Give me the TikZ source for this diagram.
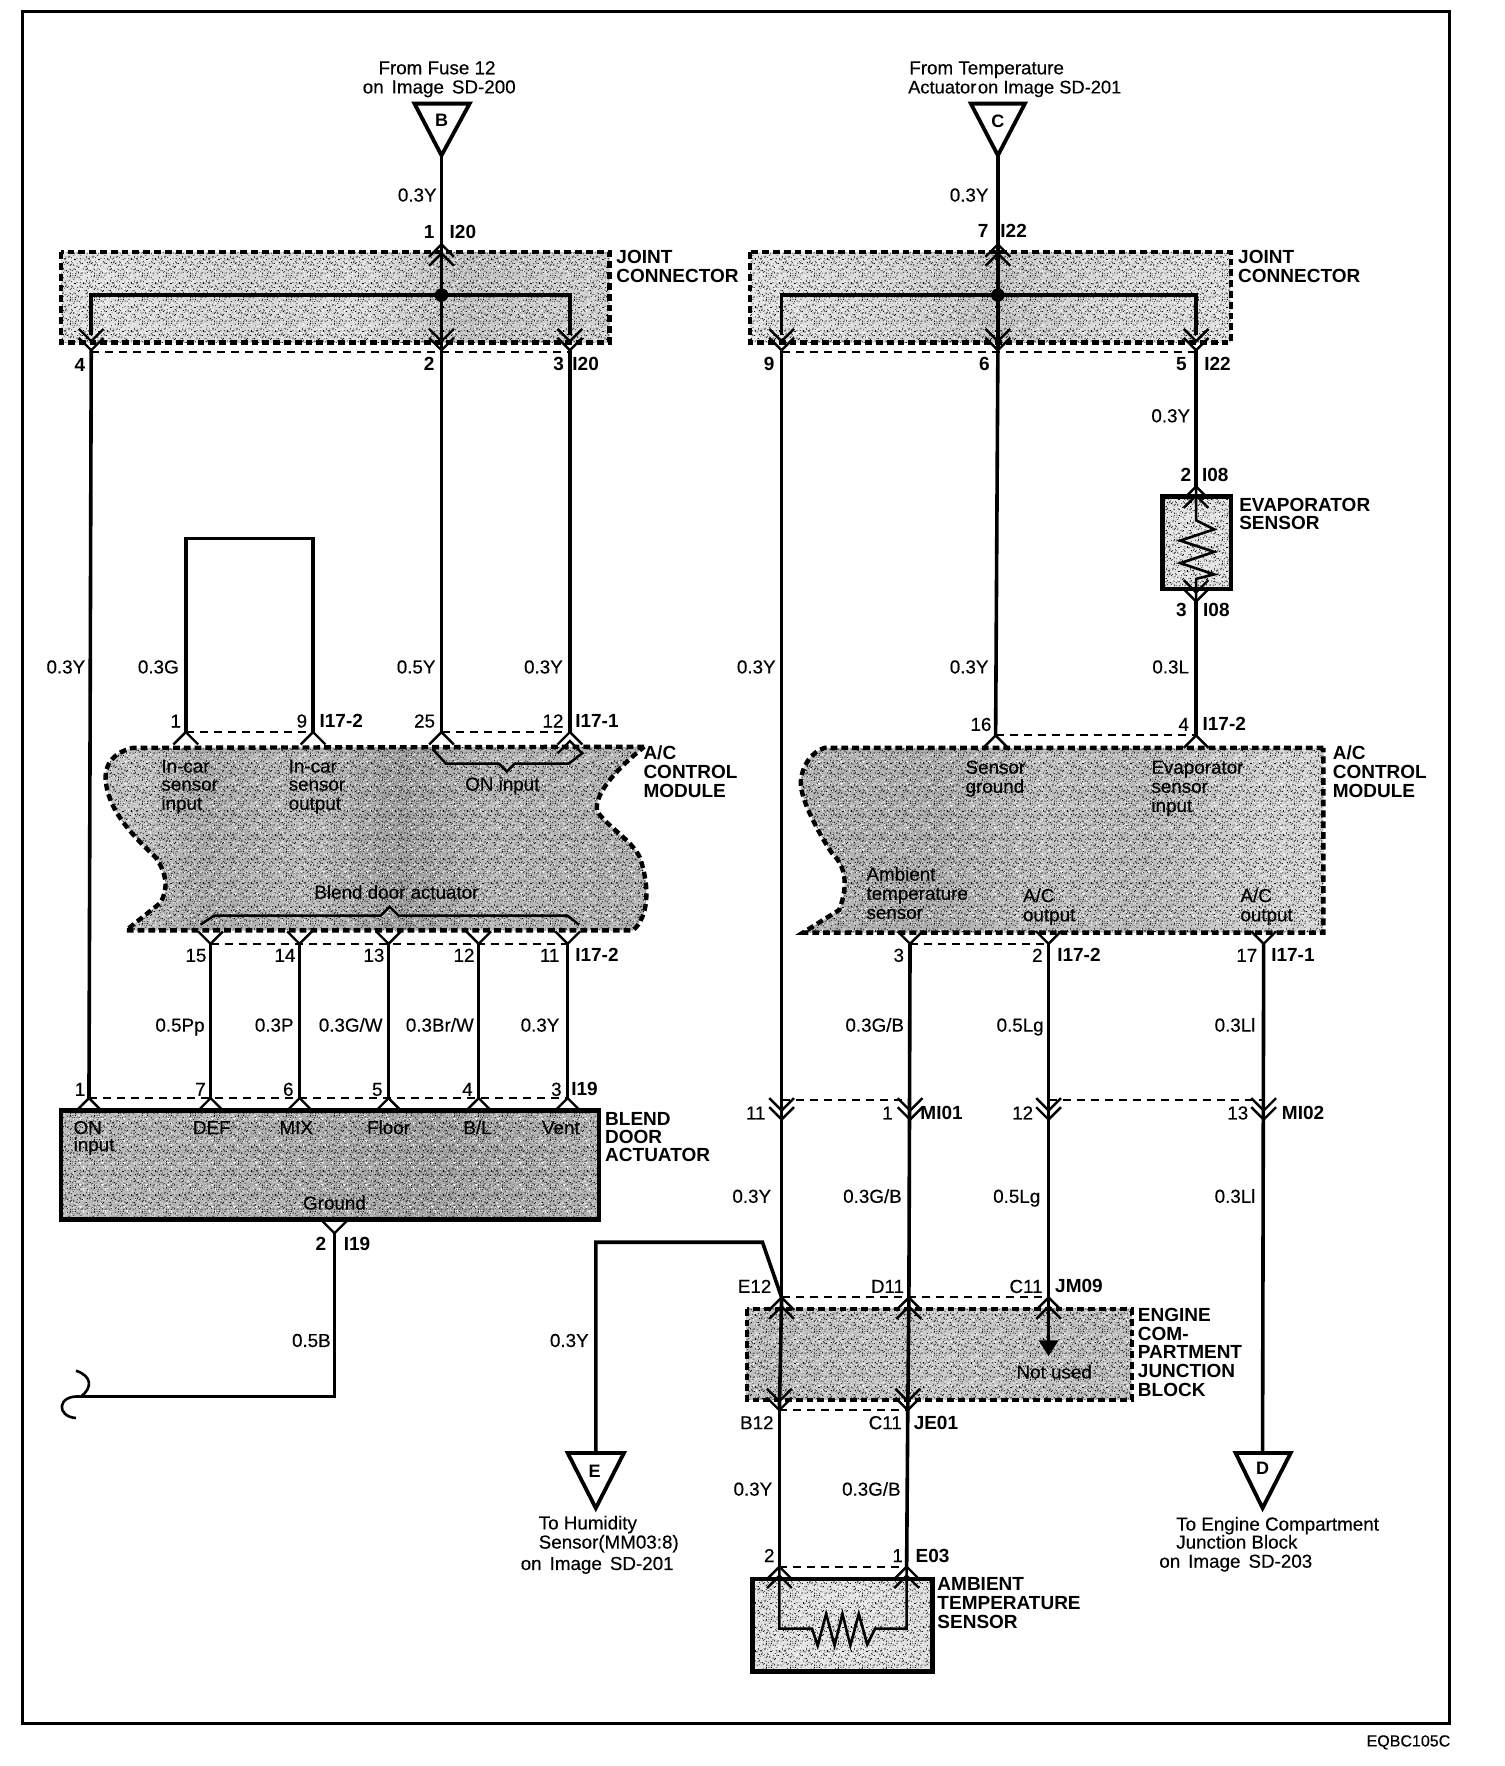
\documentclass[tikz,border=0pt]{standalone}
\usepackage{fontspec}
\setmainfont{Liberation Sans}
\newfontfamily\semif[FakeBold=0.35]{Liberation Sans}
\usetikzlibrary{calc,patterns}
\newcounter{lc}
\pgfdeclarepatternformonly{noiseK}{\pgfqpoint{0pt}{0pt}}{\pgfqpoint{12pt}{12pt}}{\pgfqpoint{12pt}{12pt}}{%
  \pgfmathsetseed{7}%
  \foreach \i in {0,...,29}{\foreach \j in {0,...,29}{%
    \pgfmathrandominteger{\rr}{0}{99}%
    \ifnum\rr<9 \pgfpathrectangle{\pgfpoint{\i*0.4pt}{\j*0.4pt}}{\pgfqpoint{.4pt}{.4pt}}\pgfusepath{fill}\fi}}}
\pgfdeclarepatternformonly{noiseW}{\pgfqpoint{0pt}{0pt}}{\pgfqpoint{11.2pt}{11.2pt}}{\pgfqpoint{11.2pt}{11.2pt}}{%
  \pgfmathsetseed{23}%
  \foreach \i in {0,...,27}{\foreach \j in {0,...,27}{%
    \pgfmathrandominteger{\rr}{0}{99}%
    \ifnum\rr<9 \pgfpathrectangle{\pgfpoint{\i*0.4pt}{\j*0.4pt}}{\pgfqpoint{.4pt}{.4pt}}\pgfusepath{fill}\fi}}}
\pgfdeclarehorizontalshading{jl}{100bp}{color(0bp)=(gray!12);color(18bp)=(gray!30);color(28bp)=(gray!22);color(42bp)=(gray!34);color(52bp)=(gray!26);color(62bp)=(gray!48);color(72bp)=(gray!36);color(85bp)=(gray!34);color(100bp)=(gray!15)}
\pgfdeclarehorizontalshading{jr}{100bp}{color(0bp)=(gray!15);color(25bp)=(gray!22);color(40bp)=(gray!32);color(50bp)=(gray!46);color(62bp)=(gray!30);color(80bp)=(gray!20);color(100bp)=(gray!10)}
\pgfdeclarehorizontalshading{ml}{100bp}{color(0bp)=(gray!34);color(15bp)=(gray!52);color(28bp)=(gray!46);color(34bp)=(gray!66);color(44bp)=(gray!52);color(52bp)=(gray!76);color(60bp)=(gray!56);color(78bp)=(gray!62);color(84bp)=(gray!72);color(92bp)=(gray!54);color(100bp)=(gray!38)}
\pgfdeclarehorizontalshading{mr}{100bp}{color(0bp)=(gray!46);color(20bp)=(gray!56);color(38bp)=(gray!64);color(48bp)=(gray!48);color(58bp)=(gray!54);color(70bp)=(gray!34);color(85bp)=(gray!30);color(100bp)=(gray!24)}
\pgfdeclarehorizontalshading{bl}{100bp}{color(0bp)=(gray!62);color(25bp)=(gray!54);color(50bp)=(gray!66);color(60bp)=(gray!74);color(75bp)=(gray!60);color(90bp)=(gray!70);color(100bp)=(gray!64)}
\pgfdeclarehorizontalshading{ju}{100bp}{color(0bp)=(gray!60);color(30bp)=(gray!50);color(50bp)=(gray!42);color(70bp)=(gray!52);color(100bp)=(gray!34)}
\pgfdeclarehorizontalshading{lt}{100bp}{color(0bp)=(gray!30);color(50bp)=(gray!20);color(100bp)=(gray!30)}
\tikzset{
  txt/.style={inner sep=0pt,text height=6.7pt,text depth=0pt,font=\fontsize{9.4}{10}\semif,align=left},
  txb/.style={inner sep=0pt,text height=6.7pt,text depth=0pt,font=\fontsize{9.5}{10}\bfseries,align=left},
  wire/.style={line width=1.8pt,line cap=butt},
  thin wire/.style={line width=1.3pt},
  chev/.style={line width=1.2pt,line join=miter},
  link/.style={line width=1pt,dash pattern=on 4pt off 3pt},
  edge box/.style={line width=2.2pt,dash pattern=on 3.4pt off 2pt},
  solid box/.style={line width=2.3pt},
  tri/.style={line width=1.9pt,line join=miter},
  nk/.style={pattern=noiseK,pattern color=black},
  nw/.style={pattern=noiseW,pattern color=white},
}
\newcommand{\tx}[4][center]{\stepcounter{lc}\node[txt,anchor=#1] (t\arabic{lc}) at (#2,#3) {#4};}
\newcommand{\tb}[4][center]{\stepcounter{lc}\node[txb,anchor=#1] (t\arabic{lc}) at (#2,#3) {#4};}
\newcommand{\Vv}[1]{\draw[chev] ($(#1)+(-11,-11)$) -- (#1) -- ($(#1)+(11,-11)$);}
\newcommand{\Vn}[1]{\draw[chev] ($(#1)+(-11,11)$) -- (#1) -- ($(#1)+(11,11)$);}
\newcommand{\VV}[1]{\Vv{#1}\draw[chev] ($(#1)+(-11,-19)$) -- ($(#1)+(0,-8)$) -- ($(#1)+(11,-19)$);}
\newcommand{\NN}[1]{\Vn{#1}\draw[chev] ($(#1)+(-11,19)$) -- ($(#1)+(0,8)$) -- ($(#1)+(11,19)$);}
\newcommand{\blk}[2]{\path[shading=#1] #2;\path[nk] #2;\path[nw] #2;}
\begin{document}
\begin{tikzpicture}[x=0.56315pt,y=-0.56315pt]
\useasboundingbox (0,0) rectangle (1335.5,1568);
\fill[white] (0,0) rectangle (1335.5,1568);
\coordinate (fa) at (20,10);\coordinate (fb) at (1287,1530);
\draw[line width=1.4pt] (fa) rectangle (fb);

% ---------- shaded blocks
\blk{jl}{(54,224) rectangle (541,304)}
\blk{jr}{(666,224) rectangle (1093,304)}
\blk{lt}{(1032,441) rectangle (1093,523)}
\def\modL{(572,663) -- (118,664) .. controls (100,668) and (92,680) .. (94,694) .. controls (96,715) and (110,735) .. (138,761) .. controls (148,775) and (150,790) .. (142,802) -- (112,826) -- (562,826) .. controls (575,815) and (578,790) .. (568,761) .. controls (560,745) and (540,735) .. (530,720) .. controls (528,705) and (545,685) .. (572,663) -- cycle}
\blk{ml}{\modL}
\def\modR{(1175,664) -- (732,664) .. controls (720,668) and (712,680) .. (711,694) .. controls (710,710) and (730,745) .. (739,758) .. controls (750,768) and (754,785) .. (745,808) -- (713,828) -- (1175,828) -- cycle}
\blk{mr}{\modR}
\blk{bl}{(54,986) rectangle (532,1083)}
\blk{ju}{(663,1162) rectangle (1005,1243)}
\blk{lt}{(668,1402) rectangle (828,1484)}

% ---------- block outlines
\draw[edge box] (54,224) rectangle (541,304);
\draw[edge box] (666,224) rectangle (1093,304);
\draw[edge box] \modL;
\draw[edge box] \modR;
\draw[edge box] (663,1162) rectangle (1005,1243);
\draw[solid box] (1032,441) rectangle (1093,523);
\draw[solid box] (54,986) rectangle (532,1083);
\draw[solid box] (668,1402) rectangle (828,1484);

% ---------- named pins
\foreach \n/\x/\y in {
 tB/392/138,tC/886/138,
 a1/392/217,a4/81/311,a2/392/311,a3/506/311,busL/81/262,busM/392/262,busR/506/262,
 b7/886/217,b9/694/311,b6/886/311,b5/1062/311,busRL/694/262,busRM/886/262,busRR/1062/262,
 i1/1062/432,i3/1062/534,
 m1/165/650,m9/278/650,m25/392/650,m12/506/650,loopa/165/478,loopb/278/478,
 n16/884/653,n4/1062/653,
 d15/187/838,d14/266/838,d13/345/838,d12/425/838,d11/504/838,
 e3/808/838,e2/931/838,e17/1122/838,
 c1/79/975,c7/187/975,c6/266/975,c5/345/975,c4/425/975,c3/504/975,g2/297/1095,
 gc/297/1240,ge/72/1240,
 f11/694/994,f1/808/994,f12/931/994,f13/1122/994,
 j12/694/1152,j11/807/1152,j9/931/1152,nu/931/1192,
 k12/692/1252,k11/806/1252,
 s2/692/1391,s1/805/1391,
 hc/529/1103,hd/677/1103,tE/529/1290,tD/1121/1290}
 {\coordinate (\n) at (\x,\y);}

% ---------- wires
\draw[wire] (tB) -- (a1); \draw[wire] (tC) -- (b7);
\draw[wire] (a1) -- (a2);
\draw[wire] (b7) -- (b6);
\draw[wire] ($(busL)+(0,35)$) -- (busL) -- (busR) -- ($(busR)+(0,35)$);
\draw[wire] ($(busRL)+(0,35)$) -- (busRL) -- (busRR) -- ($(busRR)+(0,35)$);
\fill (busM) circle (6); \fill (busRM) circle (6);
\draw[wire] (a4) -- (c1); \draw[wire] (a2) -- (m25); \draw[wire] (a3) -- (m12);
\draw[wire] (m1) -- (loopa) -- (loopb) -- (m9);
\draw[wire] (b9) -- (j12); \draw[wire] (b6) -- (n16);
\draw[wire] (b5) -- (i1); \draw[wire] (i3) -- (n4);
\draw[wire] (d15) -- (c7); \draw[wire] (d14) -- (c6); \draw[wire] (d13) -- (c5);
\draw[wire] (d12) -- (c4); \draw[wire] (d11) -- (c3);
\draw[wire] (g2) -- (gc) -- (ge);
\draw[thin wire] (ge) .. controls (82,1232) and (82,1222) .. (67.5,1217);
\draw[thin wire] (ge) .. controls (50,1238) and (50,1258) .. (67.5,1259);
\draw[wire] (e3) -- (j11); \draw[wire] (e2) -- (j9); \draw[wire] (e17) -- (tD);
\draw[wire] (tE) -- (hc) -- (hd) -- (j12);
\draw[wire] (j12) -- (k12); \draw[wire] (j11) -- (k11);
\draw[wire] (k12) -- (s2); \draw[wire] (k11) -- (s1);
\draw[thin wire] (j9) -- (nu);
\fill (922,1190) -- (940,1190) -- (931,1204) -- cycle;

% evaporator resistor
\draw[thin wire,line join=miter] (i1) -- (1062,462) -- (1078,470) -- (1048,480) -- (1078,490) -- (1048,500) -- (1078,510) -- (1062,514) -- (i3);
% ambient resistor
\draw[thin wire,line join=miter] (s2) -- (692,1446) -- (721,1446) -- (726,1461) -- (733.5,1433) -- (741,1461) -- (748,1433) -- (755,1461) -- (762.5,1433) -- (770,1460) -- (777,1446) -- (805,1446) -- (s1);

% brackets in module
\draw[chev] (384,665) -- (396,678) -- (443,678) -- (450,685) -- (457,678) -- (505,678) -- (518,668);
\draw[chev] (178,821) -- (190,813) -- (338,813) -- (346,805) -- (354,813) -- (504,813) -- (514,821);

% ---------- pin chevrons
\NN{a1}\VV{a4}\VV{a2}\VV{a3}
\NN{b7}\VV{b9}\VV{b6}\VV{b5}
\NN{i1}\VV{i3}
\Vn{m1}\Vn{m9}\Vn{m25}\NN{m12}
\Vn{n16}\Vn{n4}
\Vv{d15}\Vv{d14}\Vv{d13}\Vv{d12}\Vv{d11}
\Vv{e3}\Vv{e2}\Vv{e17}
\Vn{c1}\Vn{c7}\Vn{c6}\Vn{c5}\Vn{c4}\Vn{c3}\Vv{g2}
\VV{f11}\VV{f1}\VV{f12}\VV{f13}
\NN{j12}\NN{j11}\NN{j9}
\VV{k12}\VV{k11}
\NN{s2}\NN{s1}

% ---------- dashed links
\draw[link] (a4) ++(0,1.5) -- ($(a3)+(0,1.5)$);
\draw[link] (b9) ++(0,1.5) -- ($(b5)+(0,1.5)$);
\draw[link] (m1) -- (m9); \draw[link] (m25) -- (m12);
\draw[link] (n16) -- (n4);
\draw[link] (d15) -- (d11); \draw[link] (e3) -- (e2);
\draw[link] (c1) -- (c3);
\coordinate (f11t) at (694,977);\coordinate (f1t) at (808,977);\coordinate (f12t) at (931,977);\coordinate (f13t) at (1122,977);
\draw[link] (f11t) -- (f1t); \draw[link] (f12t) -- (f13t);
\draw[link] (j12) -- (j9);
\draw[link] (k12) -- (k11);
\draw[link] (s2) -- (s1);

% ---------- triangles
\node[inner sep=0pt,font=\fontsize{9}{10}\bfseries] (lb) at (392,107) {B};
\node[inner sep=0pt,font=\fontsize{9}{10}\bfseries] (lc) at (886,108) {C};
\node[inner sep=0pt,font=\fontsize{9}{10}\bfseries] (le) at (528,1306) {E};
\node[inner sep=0pt,font=\fontsize{9}{10}\bfseries] (ld) at (1121,1304) {D};
\draw[tri] (368,92) -- (417,92) -- (tB) -- cycle;
\draw[tri] (862,92) -- (910,92) -- (tC) -- cycle;
\draw[tri] (504,1290) -- (554,1290) -- (529,1339) -- cycle;
\draw[tri] (1097,1290) -- (1146,1290) -- (1121,1339) -- cycle;

% ---------- top/bottom captions
\tx{388}{60}{From Fuse 12}\tx{390}{77}{on\hspace{4pt}Image\hspace{4pt}SD-200}
\tx[west]{807}{60}{From Temperature}\tx[west]{806}{77}{\fontsize{9.15}{10}\selectfont Actuator\hspace{.8pt}on Image SD-201}
\tx[west]{478}{1352}{To Humidity}\tx[west]{478}{1369}{Sensor(MM03:8)}\tx[west]{462}{1388}{on\hspace{4pt}Image\hspace{4pt}SD-201}
\tx[west]{1044}{1353}{To Engine Compartment}\tx[west]{1044}{1369}{Junction Block}\tx[west]{1029}{1386}{on\hspace{4pt}Image\hspace{4pt}SD-203}
\stepcounter{lc}\node[inner sep=0pt,anchor=east,font=\fontsize{8}{9}\semif] (tq) at (1288,1547) {EQBC105C};

% ---------- wire labels
\foreach \r/\y/\t in {388/173/0.3Y,878/173/0.3Y,1057/369/0.3Y,76/592/0.3Y,159/592/0.3G,387/592/0.5Y,500/592/0.3Y,689/592/0.3Y,878/592/0.3Y,1056/592/0.3L,
 182/910/0.5Pp,261/910/0.3P,340/910/0.3G\slash W,421/910/0.3Br\slash W,497/910/0.3Y,803/910/0.3G\slash B,927/910/0.5Lg,1115/910/0.3Ll,
 685/1062/0.3Y,801/1062/0.3G\slash B,924/1062/0.5Lg,1115/1062/0.3Ll,294/1190/0.5B,523/1190/0.3Y,686/1322/0.3Y,800/1322/0.3G\slash B}
 {\tx[east]{\r}{\y}{\t}}

% ---------- pin numbers and connector ids
\foreach \x/\y/\t in {381/206/1,71/324/4,381/323/2,496/323/3,873/205/7,683/323/9,874/323/6,1049/323/5,1053/422/2,1049/541/3,285/1104/2}
 {\tb{\x}{\y}{\t}}
\foreach \x/\y/\t in {156/640/1,268/640/9,377/640/25,491/640/12,871/643/16,1051/643/4,
 174/848/15,253/848/14,332/848/13,412/848/12,488/848/11,798/848/3,921/848/2,1107/848/17,
 71/967/1,178/967/7,256/967/6,335/967/5,415/967/4,494/967/3,
 671/988/11,788/988/1,908/988/12,1099/988/13,
 670/1142/E12,788/1142/D11,911/1142/C11,672/1263/B12,786/1263/C11,683/1381/2,797/1381/1}
 {\tx{\x}{\y}{\t}}
\foreach \x/\y/\t in {411/206/I20,520/323/I20,900/205/I22,1081/323/I22,1079/422/I08,1080/541/I08,
 303/640/I17-2,530/640/I17-1,1087/643/I17-2,530/848/I17-2,958/848/I17-2,1148/848/I17-1,
 519/967/I19,317/1104/I19,836/988/MI01,1157/988/MI02,958/1142/JM09,831/1263/JE01,828/1381/E03}
 {\tb{\x}{\y}{\t}}

% ---------- block names
\foreach \x/\y/\t in {547/228/JOINT,547/245/CONNECTOR,1099/228/JOINT,1099/245/CONNECTOR,
 1100/448/EVAPORATOR,1100/464/SENSOR,
 571/668/A\slash C,571/685/CONTROL,571/702/MODULE,1183/668/A\slash C,1183/685/CONTROL,1183/702/MODULE,
 537/993/BLEND,537/1009/DOOR,537/1025/ACTUATOR,
 1010/1167/ENGINE,1010/1184/COM-,1010/1200/PARTMENT,1010/1217/JUNCTION,1010/1234/BLOCK,
 832/1406/AMBIENT,832/1423/TEMPERATURE,832/1440/SENSOR}
 {\tb[west]{\x}{\y}{\t}}

% ---------- texts inside blocks
\foreach \x/\y/\t in {143/680/In-car,143/696/sensor,143/713/input,256/680/In-car,256/696/sensor,256/713/output,
 857/681/Sensor,857/698/ground,1022/681/Evaporator,1022/698/sensor,1022/715/input,
 769/776/Ambient,769/793/temperature,769/810/sensor,908/795/A\slash C,908/812/output,1101/795/A\slash C,1101/812/output,
 65/1001/ON,65/1016/input}
 {\tx[west]{\x}{\y}{\t}}
\foreach \x/\y/\t in {446/696/ON input,352/792/Blend door actuator,188/1001/DEF,263/1001/MIX,345/1001/Floor,424/1001/B\slash L,498/1001/Vent,297/1068/Ground,936/1218/Not used}
 {\tx{\x}{\y}{\t}}
\end{tikzpicture}
\end{document}
